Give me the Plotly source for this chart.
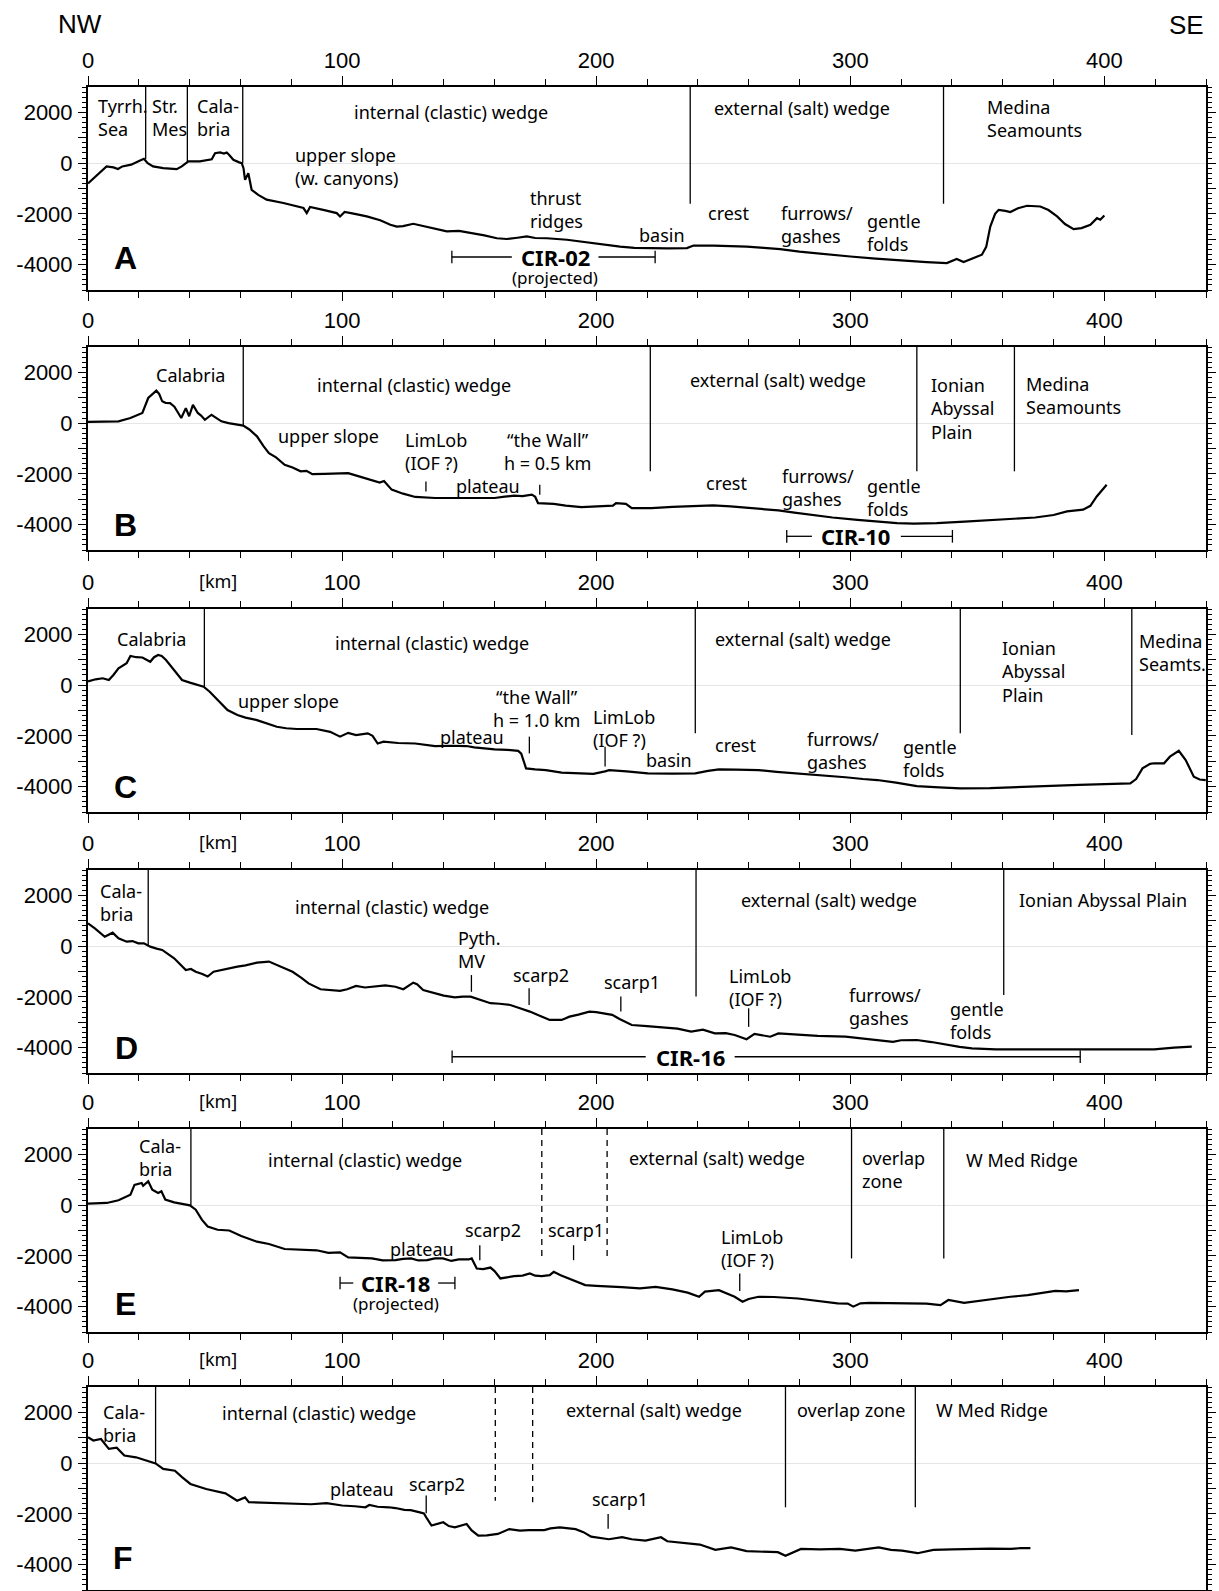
import plotly.graph_objects as go

W, H = 1219, 1591

# ---------------- profile data (km along profile, elevation in m) ----------------
A_KM = [0, 4, 7.3, 10, 11.8, 13.5, 17, 20.5, 22, 23.5, 25.6, 29.6, 32, 34.9, 36.9, 39.5, 44, 47, 48.7, 50,
        52, 53.5, 54.6, 55.5, 57.2, 59.5, 60.5, 61.2, 61.8, 63.1, 64.4, 67, 70.3, 76.9, 82, 84.8, 86.1, 87.4,
        93, 97.9, 99.2, 101, 105, 109.7, 115, 119, 121.5, 124, 128, 133, 141.2, 146, 151.6, 156, 160.9,
        164.8, 169, 172.7, 176, 180.6, 188.5, 196.3, 203, 209.4, 215, 220, 228, 235.7, 238.3, 246.2, 252,
        259.3, 266, 272.4, 280, 288.2, 295, 300, 310, 319.7, 330, 338, 341.9, 344.6, 348.5, 351.8, 353.5,
        355.1, 357, 358.4, 361, 363, 366, 369.6, 374.8, 378, 381.4, 384.5, 387.9, 391, 394.5, 397.1, 398.4, 400]
A_M = [-800, -450, -130, -170, -230, -130, -60, 100, 170, 0, -130, -200, -220, -240, -130, 70, 70, 110, 150, 390,
       420, 380, 420, 330, 130, 30, 0, -200, -660, -400, -1050, -1250, -1440, -1570, -1700, -1770, -1970, -1730,
       -1850, -1970, -2100, -1920, -2000, -2100, -2250, -2430, -2500, -2480, -2390, -2500, -2690, -2670, -2760,
       -2850, -2960, -2990, -2940, -2890, -2950, -2960, -3020, -3130, -3200, -3290, -3340, -3350, -3360, -3350,
       -3250, -3250, -3260, -3290, -3340, -3390, -3490, -3580, -3640, -3680, -3760, -3840, -3900, -3940, -3780,
       -3900, -3740, -3610, -3300, -2500, -2000, -1840, -1880, -1930, -1780, -1680, -1710, -1850, -2100, -2400,
       -2600, -2560, -2430, -2170, -2230, -2065]

B_KM = [0, 6, 12, 16.7, 21.4, 23.7, 26.9, 28, 29.2, 30.5, 32.3, 34, 35.5, 36.7, 38.5, 39.8, 41.3, 43.2, 44.5, 46,
        48.6, 50.5, 52.5, 55.3, 58, 61.1, 63.5, 66.5, 69, 71.2, 74, 77.4, 80.5, 83.7, 86, 88.3, 93, 98, 102.4,
        105, 108.6, 112, 114.8, 116.5, 119.5, 124, 128.8, 136.6, 145, 152, 160, 164, 167.7, 171, 174.7, 176,
        177.1, 183.3, 188, 194.2, 198, 202, 206.6, 207.8, 211.7, 214, 221.8, 230, 240.5, 246, 252.9, 260.7, 266,
        271.7, 278, 284.1, 293, 302.8, 310, 318.4, 325, 334, 345, 357.3, 365, 372.8, 380, 385.3, 391.6, 394.5,
        397, 400.9]
B_M = [50, 70, 70, 200, 400, 990, 1280, 1150, 860, 800, 790, 650, 400, 200, 590, 270, 720, 400, 300, 130,
       330, 200, 70, 0, -50, -100, -250, -520, -900, -1180, -1350, -1640, -1750, -1900, -1880, -2010, -2000,
       -1990, -1970, -2050, -2160, -2250, -2340, -2280, -2620, -2780, -2910, -2950, -2960, -2960, -2950, -2900,
       -2860, -2880, -2820, -2900, -3150, -3180, -3250, -3310, -3290, -3280, -3250, -3150, -3180, -3350, -3350,
       -3300, -3250, -3240, -3280, -3350, -3380, -3440, -3530, -3610, -3720, -3810, -3880, -3940, -3960, -3940,
       -3880, -3810, -3770, -3720, -3620, -3480, -3410, -3260, -2890, -2430]

C_KM = [0, 3, 5.8, 8.2, 10, 12, 15.2, 16.7, 19, 21.4, 24.5, 26, 27.6, 29, 30.7, 33.9, 35.5, 37, 40.1, 45.5,
        47.9, 51, 54.9, 58.8, 62, 66.5, 70, 74.3, 78, 82.1, 89.9, 93, 95.3, 99.2, 102.4, 105.5, 110.1, 112, 114,
        116.3, 122, 128.8, 136.6, 143, 149, 152, 156, 160, 165, 169.3, 170.5, 172.4, 176, 180.2, 186.4, 192,
        198.9, 203.5, 205.1, 212, 220.3, 230, 239, 244, 248.3, 255, 263.9, 271, 279.4, 288, 298.1, 305, 310.6,
        318, 326.2, 335, 343.3, 355, 372.9, 390, 410.2, 412.5, 415, 418, 419.6, 423.5, 425.8, 429.3, 432, 435.2,
        437.5, 439.9]
C_M = [150, 230, 270, 200, 400, 660, 860, 1150, 1100, 1090, 920, 1100, 1190, 1150, 990, 600, 400, 200, 100, -60,
       -260, -590, -980, -1180, -1280, -1380, -1500, -1640, -1700, -1730, -1730, -1780, -1840, -2030, -1880,
       -1970, -1900, -2000, -2300, -2230, -2280, -2300, -2400, -2390, -2400, -2450, -2490, -2530, -2550, -2590,
       -2700, -3280, -3320, -3350, -3450, -3480, -3500, -3400, -3350, -3400, -3480, -3490, -3480, -3380, -3320,
       -3330, -3350, -3420, -3480, -3550, -3630, -3700, -3740, -3840, -3980, -4030, -4070, -4060, -3980, -3930,
       -3870, -3700, -3280, -3100, -3080, -3080, -2820, -2590, -2950, -3610, -3720, -3740]

D_KM = [0, 2.7, 6.6, 9.7, 12, 15.2, 17.5, 19.8, 22, 24.5, 27, 29.2, 33.9, 38.5, 40.5, 42.4, 45, 47.1, 49.4, 54,
        58.8, 62, 66.5, 71.2, 76, 80.5, 84, 86.8, 91.5, 99.2, 102, 105.5, 109, 113.2, 117, 121, 124.1, 128,
        129.5, 131.9, 136.6, 140, 144.4, 147.5, 150.6, 154, 158.4, 162, 166.2, 170, 173.9, 178, 181.7, 186.4,
        189.5, 193, 197.3, 200, 203.5, 206.3, 209.4, 214, 220, 228, 232, 237.4, 242, 246.7, 251, 254.5, 256.8,
        259.2, 262.3, 265, 268.5, 271.7, 280, 287.2, 298.1, 303, 307.5, 312, 316.8, 320, 326.2, 332, 338.6, 343,
        347.9, 357.3, 370, 388.5, 405, 419.6, 427.4, 434.4]
D_M = [900, 700, 370, 530, 310, 175, 200, 110, 110, -20, -100, -150, -480, -940, -900, -1010, -1100, -1200, -1010,
       -900, -810, -760, -650, -610, -800, -1010, -1250, -1470, -1700, -1760, -1700, -1570, -1630, -1600, -1550,
       -1600, -1700, -1440, -1500, -1730, -1860, -1950, -2020, -1990, -1990, -2100, -2250, -2270, -2320, -2450,
       -2580, -2750, -2910, -2910, -2780, -2700, -2580, -2600, -2670, -2710, -2880, -3110, -3150, -3200, -3250,
       -3370, -3290, -3440, -3430, -3500, -3570, -3670, -3460, -3500, -3570, -3440, -3500, -3540, -3570, -3620,
       -3670, -3720, -3770, -3710, -3700, -3780, -3900, -3970, -4030, -4070, -4070, -4070, -4070, -4070, -4000,
       -3960]

E_KM = [0, 7.4, 12, 16.7, 18.3, 21.1, 21.7, 23.7, 25.3, 27.6, 28.9, 30.4, 33.9, 40.1, 42.4, 44.8, 47.1, 51, 55.6,
        60.3, 66.5, 71.2, 77.4, 86.8, 90, 94.6, 99.2, 102.4, 107, 111.7, 116, 121, 124, 127.2, 130, 133.5, 136.5,
        139.7, 143, 145.9, 149.8, 151, 153, 155.5, 158.4, 160, 162.3, 165, 167.7, 171, 173.9, 176, 178.6, 181.7,
        183.3, 186, 189.5, 195.7, 200, 205.1, 210, 217.2, 223.4, 230, 236, 240.5, 242.8, 248.3, 254.5, 257.6,
        260, 263.9, 270, 279.4, 287, 295, 299, 301.2, 304, 307.5, 315, 326.2, 330, 335.5, 338.6, 344.8, 350,
        357.3, 363, 369.8, 375, 380.7, 385, 390]
E_M = [60, 85, 190, 410, 800, 870, 760, 940, 610, 480, 550, 220, 110, -10, -180, -570, -840, -970, -1000, -1220,
       -1440, -1530, -1730, -1770, -1780, -1880, -1860, -2060, -2080, -2100, -2180, -2170, -2120, -2100, -2180,
       -2170, -2100, -2100, -2200, -2140, -2140, -2100, -2500, -2520, -2460, -2600, -2890, -2830, -2800, -2780,
       -2690, -2780, -2800, -2760, -2630, -2760, -2890, -3150, -3180, -3200, -3230, -3280, -3220, -3320, -3450,
       -3610, -3410, -3350, -3610, -3810, -3700, -3610, -3620, -3680, -3760, -3870, -3880, -4000, -3870, -3850,
       -3860, -3870, -3880, -3940, -3740, -3850, -3780, -3680, -3610, -3550, -3480, -3380, -3400, -3350]

F_KM = [0, 2.1, 5.1, 8.2, 11.3, 14.3, 18.9, 23.5, 26.6, 29.6, 34.2, 37, 40.3, 46.5, 50, 54.1, 58.7, 61.8, 63.3,
        70, 75.6, 80, 87.8, 93.9, 100, 105, 109.2, 110.7, 114, 118.4, 121, 124.5, 127, 130.6, 132.2, 133.5,
        135.2, 139.8, 142, 144.4, 147, 149, 151, 153.6, 157, 161.3, 165.8, 170, 173.5, 179.6, 182, 185.7, 191.9,
        195, 198, 201, 205, 210.2, 214, 219.4, 225.5, 228, 231.7, 236, 240.8, 246.9, 250, 253.1, 259.2, 265,
        271.5, 274.5, 277, 280.6, 288, 295.9, 302, 306, 311.2, 316, 320.4, 326.5, 332.7, 340, 347.9, 355, 363.2,
        367, 370.9]
F_M = [1020, 890, 950, 560, 610, 300, 230, 100, -10, -230, -300, -550, -820, -1020, -1100, -1190, -1480, -1350,
       -1540, -1570, -1580, -1600, -1620, -1580, -1670, -1700, -1740, -1650, -1720, -1740, -1770, -1840, -1850,
       -1940, -1980, -2200, -2460, -2330, -2480, -2530, -2450, -2400, -2650, -2860, -2850, -2790, -2600, -2660,
       -2640, -2640, -2570, -2530, -2600, -2720, -2900, -2950, -3000, -2920, -3000, -3050, -2920, -3080, -3120,
       -3150, -3210, -3420, -3360, -3320, -3470, -3490, -3510, -3650, -3550, -3380, -3400, -3380, -3450, -3400,
       -3320, -3420, -3450, -3550, -3420, -3400, -3380, -3370, -3380, -3350, -3350]

# ---------------- axes ----------------
X_RANGE = [0, 440]
Y_RANGE = [-5000, 3000]
X_TICKS = [0, 100, 200, 300, 400]
Y_TICKVALS = [-4000, -3000, -2000, -1000, 0, 1000, 2000]
Y_TICKTEXT = ["-4000", "", "-2000", "", "0", "", "2000"]

# ---------------- labels: (text, km, m, anchor) ----------------
A_LABELS = [("Tyrrh.<br>Sea", 3, 1780, "left"), ("Str.<br>Mes", 24.4, 1780, "left"),
            ("Cala-<br>bria", 42, 1780, "left"), ("internal (clastic) wedge", 143, 2030, "center"),
            ("upper slope<br>(w. canyons)", 80.8, -130, "left"), ("thrust<br>ridges", 173.2, -1840, "left"),
            ("basin", 225.9, -2830, "center"), ("crest", 252, -1950, "center"),
            ("furrows/<br>gashes", 272, -2400, "left"), ("gentle<br>folds", 305.9, -2730, "left"),
            ("external (salt) wedge", 281, 2170, "center"), ("Medina<br>Seamounts", 353, 1745, "left")]
B_LABELS = [("Calabria", 40.5, 1910, "center"), ("internal (clastic) wedge", 128.3, 1510, "center"),
            ("upper slope", 94.6, -520, "center"), ("LimLob<br>(IOF ?)", 123.8, -1115, "left"),
            ("“the Wall”<br>h = 0.5 km", 180.8, -1115, "center"), ("plateau", 157.4, -2490, "center"),
            ("external (salt) wedge", 271.5, 1680, "center"), ("crest", 251.4, -2360, "center"),
            ("furrows/<br>gashes", 272.4, -2530, "left"), ("gentle<br>folds", 305.9, -2920, "left"),
            ("Ionian<br>Abyssal<br>Plain", 330.8, 595, "left"), ("Medina<br>Seamounts", 368.5, 1100, "left")]
C_LABELS = [("Calabria", 25.1, 1820, "center"), ("internal (clastic) wedge", 135.2, 1650, "center"),
            ("upper slope", 78.8, -630, "center"), ("“the Wall”<br>h = 1.0 km", 176.7, -915, "center"),
            ("LimLob<br>(IOF ?)", 198, -1700, "left"), ("plateau", 151.2, -2030, "center"),
            ("basin", 228.6, -2950, "center"), ("crest", 254.7, -2360, "center"),
            ("furrows/<br>gashes", 282.2, -2560, "left"), ("gentle<br>folds", 320, -2890, "left"),
            ("external (salt) wedge", 281.3, 1800, "center"), ("Ionian<br>Abyssal<br>Plain", 358.9, 555, "left"),
            ("Medina<br>Seamts.", 412.9, 1300, "left")]
D_LABELS = [("Cala-<br>bria", 4, 1720, "left"), ("internal (clastic) wedge", 119.7, 1550, "center"),
            ("Pyth.<br>MV", 144.7, -120, "left"), ("scarp2", 178.3, -1140, "center"),
            ("scarp1", 214, -1400, "center"), ("LimLob<br>(IOF ?)", 251.4, -1630, "left"),
            ("furrows/<br>gashes", 298.9, -2390, "left"), ("gentle<br>folds", 338.6, -2920, "left"),
            ("external (salt) wedge", 291.8, 1820, "center"), ("Ionian Abyssal Plain", 399.3, 1820, "center")]
E_LABELS = [("Cala-<br>bria", 19.1, 1870, "left"), ("internal (clastic) wedge", 109.2, 1790, "center"),
            ("plateau", 131.4, -1710, "center"), ("scarp2", 159.2, -990, "center"),
            ("scarp1", 191.9, -990, "center"), ("external (salt) wedge", 247.5, 1840, "center"),
            ("overlap<br>zone", 304, 1410, "left"), ("W Med Ridge", 367.4, 1790, "center"),
            ("LimLob<br>(IOF ?)", 248.3, -1710, "left")]
F_LABELS = [("Cala-<br>bria", 5, 1580, "left"), ("internal (clastic) wedge", 91.1, 1960, "center"),
            ("external (salt) wedge", 222.9, 2100, "center"), ("overlap zone", 300.4, 2100, "center"),
            ("W Med Ridge", 355.6, 2100, "center"), ("plateau", 107.7, -1020, "center"),
            ("scarp2", 137.5, -820, "center"), ("scarp1", 209.3, -1410, "center")]

# boundaries: (km, lower end in m, dashed)  -- upper end is the top of the panel
A_BOUNDS = [(22.7, 150, False), (39.1, 50, False), (60.9, 0, False), (237, -1600, False), (336.7, -1600, False)]
B_BOUNDS = [(61.1, -100, False), (221.3, -1900, False), (326.2, -1900, False), (364.6, -1900, False)]
C_BOUNDS = [(45.8, -70, False), (239, -1900, False), (343.3, -1900, False), (410.8, -1970, False)]
D_BOUNDS = [(23.7, 40, False), (239.3, -1990, False), (360.4, -1930, False)]
E_BOUNDS = [(40.5, 0, False), (178.6, -2170, True), (204.3, -2170, True), (300.5, -2100, False),
            (336.8, -2100, False)]
F_BOUNDS = [(26.6, 0, False), (160.3, -1480, True), (175, -1540, True), (274.5, -1740, False),
            (325.6, -1740, False)]

# feature markers: (km, top m, bottom m)
A_MARKS = []
B_MARKS = [(133, -2300, -2690), (177.8, -2430, -2820)]
C_MARKS = [(173.7, -2030, -2690), (203.5, -2430, -3210)]
D_MARKS = [(150.9, -1140, -1800), (173.6, -1660, -2320), (209.7, -1990, -2580), (260, -2450, -3180)]
E_MARKS = [(154.2, -1580, -2170), (191.1, -1580, -2170), (256.5, -2690, -3380)]
F_MARKS = [(133.1, -1280, -1980), (204.7, -2000, -2590)]

# seismic line segments:
# (name, text km, m, from km, gap start km, gap end km, to km, subtitle, subtitle m)
A_CIR = [("CIR-02", 183.9, -3700, 143.2, 166.8, 200.9, 223.2, "(projected)", -4520)]
B_CIR = [("CIR-10", 302, -4460, 275, 284.9, 319.9, 340.2, None, None)]
C_CIR = []
D_CIR = [("CIR-16", 237, -4360, 143.3, 219.5, 254.5, 390.5, None, None)]
E_CIR = [("CIR-18", 121.2, -3070, 99.2, 104.4, 137.8, 144.4, "(projected)", -3870)]
F_CIR = []

PANEL_LETTERS = ["A", "B", "C", "D", "E", "F"]
LETTER_POS = [(14.6, -3730), (14.8, -4000), (14.8, -4000), (15.2, -4010), (14.6, -3880), (13.6, -3740)]
KM_LABEL = [False, False, True, True, True, True]

PANELS = [(A_KM, A_M, A_LABELS, A_BOUNDS, A_MARKS, A_CIR),
          (B_KM, B_M, B_LABELS, B_BOUNDS, B_MARKS, B_CIR),
          (C_KM, C_M, C_LABELS, C_BOUNDS, C_MARKS, C_CIR),
          (D_KM, D_M, D_LABELS, D_BOUNDS, D_MARKS, D_CIR),
          (E_KM, E_M, E_LABELS, E_BOUNDS, E_MARKS, E_CIR),
          (F_KM, F_M, F_LABELS, F_BOUNDS, F_MARKS, F_CIR)]

# ---------------- layout geometry (pixels) ----------------
ML, MR = 88, 13
TOPS = [87, 347, 609, 870, 1129, 1387]
PH = 203

LABEL_FONT = dict(family="Noto Sans", size=18, color="black")
TICK_FONT = dict(family="Liberation Sans", size=22, color="black")

fig = go.Figure()
layout = dict(width=W, height=H, margin=dict(l=ML, r=MR, t=0, b=0),
              paper_bgcolor="white", plot_bgcolor="white", showlegend=False)
annotations = []
shapes = []


def seg(xa, ya, x0, x1, y0, y1, dash="solid"):
    return dict(type="line", xref=xa, yref=ya, x0=x0, x1=x1, y0=y0, y1=y1,
                line=dict(color="black", width=1.3, dash=dash))


for i, (km, m, labels, bounds, marks, cirs) in enumerate(PANELS):
    n = "" if i == 0 else str(i + 1)
    xa, ya = "x" + n, "y" + n
    top = TOPS[i]
    dom = [1 - (top + PH) / H, 1 - top / H]
    layout["xaxis" + n] = dict(
        domain=[0, 1], range=X_RANGE, anchor=ya, side="top", tickvals=X_TICKS,
        showline=True, linecolor="black", linewidth=2, mirror="ticks",
        ticks="outside", ticklen=9, tickwidth=1.3, tickcolor="black",
        tickfont=TICK_FONT, showgrid=False, zeroline=False, automargin=False,
        ticklabelstandoff=-1,
        minor=dict(ticks="outside", dtick=20, tick0=0, ticklen=6, tickwidth=1, tickcolor="black", showgrid=False))
    layout["yaxis" + n] = dict(
        domain=dom, range=Y_RANGE, anchor=xa, tickvals=Y_TICKVALS, ticktext=Y_TICKTEXT,
        showline=True, linecolor="black", linewidth=2, mirror="ticks",
        ticks="outside", ticklen=8, tickwidth=1.2, tickcolor="black",
        tickfont=TICK_FONT, showgrid=False, zeroline=True, zerolinecolor="#e6e6e6", zerolinewidth=1,
        automargin=False, ticklabelstandoff=1,
        minor=dict(ticks="outside", dtick=200, tick0=0, ticklen=4, tickwidth=1, tickcolor="black", showgrid=False))

    fig.add_trace(go.Scatter(x=km, y=m, mode="lines", xaxis=xa, yaxis=ya,
                             line=dict(color="black", width=2.2), hoverinfo="skip"))

    for (bx, bm, dashed) in bounds:
        shapes.append(seg(xa, ya, bx, bx, Y_RANGE[1], bm, "6px,5px" if dashed else "solid"))
    for (mx, mt, mb) in marks:
        shapes.append(seg(xa, ya, mx, mx, mt, mb))
    for (text, tx, ty, x0, g0, g1, x1, sub, sub_y) in cirs:
        shapes.append(seg(xa, ya, x0, g0, ty, ty))
        shapes.append(seg(xa, ya, g1, x1, ty, ty))
        for xe in (x0, x1):
            shapes.append(seg(xa, ya, xe, xe, ty - 250, ty + 250))
        annotations.append(dict(xref=xa, yref=ya, x=tx, y=ty, text="<b>" + text + "</b>", showarrow=False,
                                xanchor="center", yanchor="middle",
                                font=dict(family="Noto Sans", size=22, color="black")))
        if sub:
            annotations.append(dict(xref=xa, yref=ya, x=tx, y=sub_y, text=sub, showarrow=False,
                                    xanchor="center", yanchor="middle",
                                    font=dict(family="Noto Sans", size=17, color="black")))

    for (text, tx, ty, anc) in labels:
        annotations.append(dict(xref=xa, yref=ya, x=tx, y=ty, text=text, showarrow=False,
                                xanchor=anc, yanchor="middle", align=anc, font=LABEL_FONT))

    lx, ly = LETTER_POS[i]
    annotations.append(dict(xref=xa, yref=ya, x=lx, y=ly, text="<b>" + PANEL_LETTERS[i] + "</b>",
                            showarrow=False, xanchor="center", yanchor="middle",
                            font=dict(family="Liberation Sans", size=32, color="black")))
    if KM_LABEL[i]:
        annotations.append(dict(xref=xa, yref=ya + " domain", x=51, y=1 + 28 / PH, text="[km]",
                                showarrow=False, xanchor="center", yanchor="middle", font=LABEL_FONT))

# orientation labels
annotations.append(dict(xref="paper", yref="paper", x=(80 - ML) / (W - ML - MR), y=1 - 24 / H, text="NW",
                        showarrow=False, xanchor="center", yanchor="middle",
                        font=dict(family="Liberation Sans", size=26, color="black")))
annotations.append(dict(xref="paper", yref="paper", x=(1186 - ML) / (W - ML - MR), y=1 - 25 / H, text="SE",
                        showarrow=False, xanchor="center", yanchor="middle",
                        font=dict(family="Liberation Sans", size=26, color="black")))

layout["annotations"] = annotations
layout["shapes"] = shapes
fig.update_layout(**layout)
fig.write_html("out.html", config={"displayModeBar": False},
               post_script="document.body.style.margin='0';document.body.style.overflow='hidden';")
